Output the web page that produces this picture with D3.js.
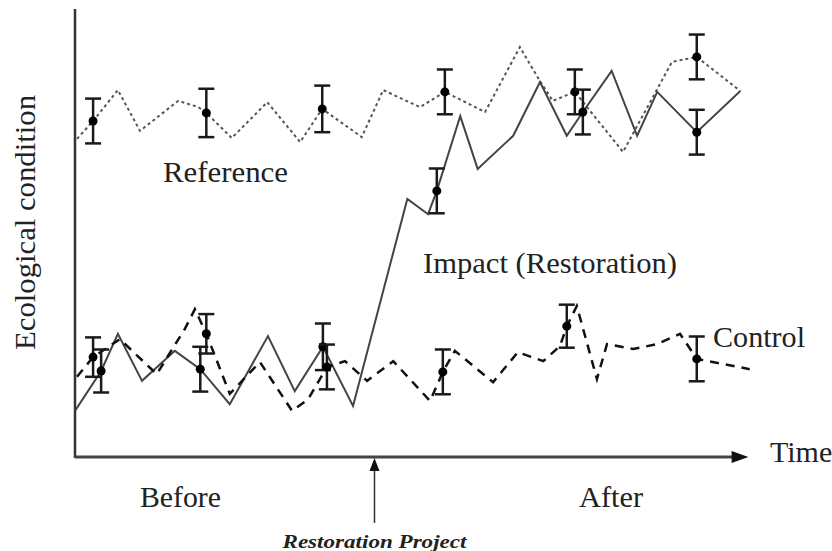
<!DOCTYPE html>
<html>
<head>
<meta charset="utf-8">
<script src="https://cdn.jsdelivr.net/npm/d3@7"></script>
<style>
  body { margin: 0; background: #fff; }
  text { font-family: "Liberation Serif", "Times New Roman", serif; fill: #222; }
</style>
</head>
<body>
<div id="chart"></div>
<script>
// time runs 0..100, ecological condition 0..100 (schematic units)
const refLine = [[0.3,71.0],[2.7,75.0],[6.4,81.9],[9.7,72.8],[15.4,79.5],[18.4,78.1],[19.6,76.8],[23.4,71.2],
    [28.7,79.2],[33.6,70.3],[36.9,77.7],[42.8,71.4],[46.0,81.9],[51.5,78.1],[55.2,81.5],[61.2,77.0],[66.4,91.5],
    [69.4,83.9],[71.3,79.5],[74.6,81.5],[81.8,68.1],[89.1,88.2],[92.8,89.3],[99.3,81.7]]
const impactLine = [[0,10.3],[3.9,19.2],[6.4,27.5],[10.0,17.0],[14.9,23.7],[18.7,19.6],[23.1,11.8],[28.8,27.0],
    [32.8,14.7],[37.0,24.6],[41.5,11.4],[49.6,57.6],[52.7,54.2],[54.0,59.4],[57.5,76.1],[60.1,64.3],[65.4,71.7],
    [69.4,83.7],[73.4,71.7],[75.8,77.0],[80.1,86.2],[83.9,71.7],[86.9,81.5],[92.8,72.5],[99.3,81.7]]
const controlLine = [[0.3,17.9],[2.7,22.3],[6.7,26.3],[12.2,18.5],[16.4,28.6],[17.9,33.0],[19.6,27.5],[23.1,14.1],
    [27.6,21.2],[32.4,10.3],[34.8,12.9],[37.6,20.1],[40.3,21.4],[43.6,17.0],[47.5,21.4],[53.0,12.5],[54.9,19.0],
    [56.7,23.7],[62.4,16.7],[66.1,23.4],[69.9,21.4],[72.4,24.8],[73.4,29.2],[74.9,33.7],[77.9,17.4],[79.4,25.2],
    [83.3,24.1],[86.9,25.2],[90.3,27.5],[92.8,21.9],[100.7,19.6]]

// sampled means with error (time, mean, +/- error)
const refBars = [[2.7,75.0,5.0],[19.6,76.8,5.4],[36.9,77.7,5.2],[55.2,81.5,5.0],[74.6,81.5,5.0],[92.8,89.3,5.0]]
const impactBars = [[3.9,19.2,4.8],[18.7,19.6,5.0],[37.0,24.6,5.2],[54.0,59.4,5.0],[75.8,77.0,5.0],[92.8,72.5,5.0]]
const controlBars = [[2.7,22.3,4.4],[19.6,27.5,4.4],[37.6,20.1,5.0],[54.9,19.0,5.0],[73.4,29.2,4.8],[92.8,21.9,5.0]]

const restorationTime = 44.7

const width = 832, height = 551
const svg = d3.select("#chart").append("svg")
    .attr("width", width)
    .attr("height", height)

const x = d3.scaleLinear().domain([0, 100]).range([75, 745])
const y = d3.scaleLinear().domain([0, 100]).range([457, 9])

const line = d3.line().x(d => x(d[0])).y(d => y(d[1]))

// axes
svg.append("line")
    .attr("x1", x(0)).attr("x2", x(0))
    .attr("y1", y(100)).attr("y2", y(0) + 1)
    .attr("stroke", "#333").attr("stroke-width", 2.5)
svg.append("line")
    .attr("x1", x(0)).attr("x2", x(99))
    .attr("y1", y(0)).attr("y2", y(0))
    .attr("stroke", "#444").attr("stroke-width", 3)
svg.append("path")
    .attr("d", `M${x(98)},${y(0)-6}L${x(100.5)},${y(0)}L${x(98)},${y(0)+6}Z`)
    .attr("fill", "#111")

// series lines
svg.append("path").datum(refLine)
    .attr("d", line).attr("fill", "none")
    .attr("stroke", "#555").attr("stroke-width", 2)
    .attr("stroke-dasharray", "3,3")
svg.append("path").datum(impactLine)
    .attr("d", line).attr("fill", "none")
    .attr("stroke", "#444").attr("stroke-width", 2)
svg.append("path").datum(controlLine)
    .attr("d", line).attr("fill", "none")
    .attr("stroke", "#111").attr("stroke-width", 2.5)
    .attr("stroke-dasharray", "9,7")

// error bars
const bars = refBars.concat(impactBars, controlBars)
const eb = svg.append("g").selectAll("g").data(bars).enter().append("g")
eb.append("line")
    .attr("x1", d => x(d[0])).attr("x2", d => x(d[0]))
    .attr("y1", d => y(d[1] + d[2])).attr("y2", d => y(d[1] - d[2]))
    .attr("stroke", "#1a1a1a").attr("stroke-width", 2.5)
eb.selectAll(".cap").data(d => [[d[0], d[1] + d[2]], [d[0], d[1] - d[2]]]).enter()
    .append("line")
    .attr("x1", d => x(d[0]) - 8).attr("x2", d => x(d[0]) + 8)
    .attr("y1", d => y(d[1])).attr("y2", d => y(d[1]))
    .attr("stroke", "#1a1a1a").attr("stroke-width", 2.5)
eb.append("circle")
    .attr("cx", d => x(d[0])).attr("cy", d => y(d[1]))
    .attr("r", 4.5).attr("fill", "#000")

// labels
svg.append("text")
    .attr("transform", `translate(35,${(95 + 350) / 2}) rotate(-90)`)
    .attr("text-anchor", "middle")
    .style("font-size", "30px")
    .attr("textLength", 255).attr("lengthAdjust", "spacingAndGlyphs")
    .text("Ecological condition")

svg.append("text").attr("x", 163).attr("y", 182)
    .style("font-size", "30px")
    .attr("textLength", 125).attr("lengthAdjust", "spacingAndGlyphs")
    .text("Reference")
svg.append("text").attr("x", 423).attr("y", 273)
    .style("font-size", "30px")
    .attr("textLength", 254).attr("lengthAdjust", "spacingAndGlyphs")
    .text("Impact (Restoration)")
svg.append("text").attr("x", 713).attr("y", 347)
    .style("font-size", "30px")
    .attr("textLength", 92).attr("lengthAdjust", "spacingAndGlyphs")
    .text("Control")
svg.append("text").attr("x", 770).attr("y", 462)
    .style("font-size", "30px")
    .text("Time")
svg.append("text").attr("x", 140).attr("y", 507)
    .style("font-size", "30px")
    .attr("textLength", 81).attr("lengthAdjust", "spacingAndGlyphs")
    .text("Before")
svg.append("text").attr("x", 579).attr("y", 507)
    .style("font-size", "30px")
    .attr("textLength", 64).attr("lengthAdjust", "spacingAndGlyphs")
    .text("After")

// restoration marker
const rx = x(restorationTime)
svg.append("line")
    .attr("x1", rx).attr("x2", rx)
    .attr("y1", y(0) + 12).attr("y2", 523)
    .attr("stroke", "#333").attr("stroke-width", 1.5)
svg.append("path")
    .attr("d", `M${rx - 5},${y(0) + 14}L${rx},${y(0) + 1}L${rx + 5},${y(0) + 14}Z`)
    .attr("fill", "#111")
svg.append("text").attr("x", rx).attr("y", 548)
    .attr("text-anchor", "middle")
    .style("font-size", "19px").style("font-style", "italic").style("font-weight", "bold")
    .attr("textLength", 184).attr("lengthAdjust", "spacingAndGlyphs")
    .text("Restoration Project")
</script>
</body>
</html>
